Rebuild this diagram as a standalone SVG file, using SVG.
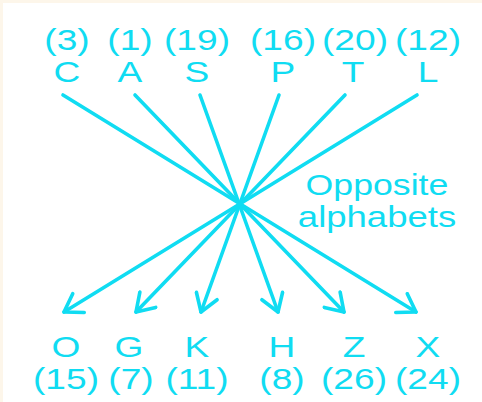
<svg xmlns="http://www.w3.org/2000/svg" width="482" height="402" viewBox="0 0 482 402">
  <style>
    .t { font-family: "Liberation Sans", Arial, sans-serif; font-size: 29px; fill: #10dcf2; text-anchor: middle; }
    .c { stroke: #10dcf2; stroke-width: 3.6; fill: none; stroke-linecap: round; }
  </style>
  <defs>
    <marker id="arrow" markerUnits="userSpaceOnUse" markerWidth="26" markerHeight="26" viewBox="-22 -13 26 26" refX="0" refY="0" orient="auto">
      <path d="M-17,-11 L0,0 L-17,11" stroke="#10dcf2" stroke-width="3.6" fill="none" stroke-linecap="round" stroke-linejoin="round"/>
    </marker>
  </defs>

  <!-- page -->
  <rect x="0" y="0" width="482" height="402" fill="#fdf6ea"/>
  <rect x="3" y="3" width="479" height="399" fill="#ffffff"/>

  <!-- connectors: each letter joined to its opposite through a common crossing -->
  <g id="connectors">
    <line class="c" x1="63" y1="95" x2="416" y2="312" marker-end="url(#arrow)"/>
    <line class="c" x1="135" y1="95" x2="344" y2="312" marker-end="url(#arrow)"/>
    <line class="c" x1="200" y1="95" x2="278" y2="312" marker-end="url(#arrow)"/>
    <line class="c" x1="279" y1="95" x2="201" y2="312" marker-end="url(#arrow)"/>
    <line class="c" x1="345" y1="95" x2="136" y2="312" marker-end="url(#arrow)"/>
    <line class="c" x1="417" y1="95" x2="64" y2="312" marker-end="url(#arrow)"/>
  </g>

  <!-- top row -->
  <g id="node-C">
    <text class="t" transform="translate(67,50) scale(1.28,1)">(3)</text>
    <text class="t" transform="translate(67,82) scale(1.28,1)">C</text>
  </g>
  <g id="node-A">
    <text class="t" transform="translate(130,50) scale(1.28,1)">(1)</text>
    <text class="t" transform="translate(130,82) scale(1.28,1)">A</text>
  </g>
  <g id="node-S">
    <text class="t" transform="translate(197,50) scale(1.28,1)">(19)</text>
    <text class="t" transform="translate(197,82) scale(1.28,1)">S</text>
  </g>
  <g id="node-P">
    <text class="t" transform="translate(283,50) scale(1.28,1)">(16)</text>
    <text class="t" transform="translate(283,82) scale(1.28,1)">P</text>
  </g>
  <g id="node-T">
    <text class="t" transform="translate(355,50) scale(1.28,1)">(20)</text>
    <text class="t" transform="translate(353,82) scale(1.28,1)">T</text>
  </g>
  <g id="node-L">
    <text class="t" transform="translate(428,50) scale(1.28,1)">(12)</text>
    <text class="t" transform="translate(428,82) scale(1.28,1)">L</text>
  </g>

  <!-- label at the crossing -->
  <g id="label-opposite">
    <text class="t" transform="translate(377,195) scale(1.23,1)">Opposite</text>
    <text class="t" transform="translate(377,227) scale(1.26,1)">alphabets</text>
  </g>

  <!-- bottom row -->
  <g id="node-O">
    <text class="t" transform="translate(66,357) scale(1.28,1)">O</text>
    <text class="t" transform="translate(66,389) scale(1.28,1)">(15)</text>
  </g>
  <g id="node-G">
    <text class="t" transform="translate(129,357) scale(1.28,1)">G</text>
    <text class="t" transform="translate(131,389) scale(1.28,1)">(7)</text>
  </g>
  <g id="node-K">
    <text class="t" transform="translate(197,357) scale(1.28,1)">K</text>
    <text class="t" transform="translate(197,389) scale(1.28,1)">(11)</text>
  </g>
  <g id="node-H">
    <text class="t" transform="translate(282,357) scale(1.28,1)">H</text>
    <text class="t" transform="translate(282,389) scale(1.28,1)">(8)</text>
  </g>
  <g id="node-Z">
    <text class="t" transform="translate(354,357) scale(1.28,1)">Z</text>
    <text class="t" transform="translate(354,389) scale(1.28,1)">(26)</text>
  </g>
  <g id="node-X">
    <text class="t" transform="translate(428,357) scale(1.28,1)">X</text>
    <text class="t" transform="translate(428,389) scale(1.28,1)">(24)</text>
  </g>
</svg>
